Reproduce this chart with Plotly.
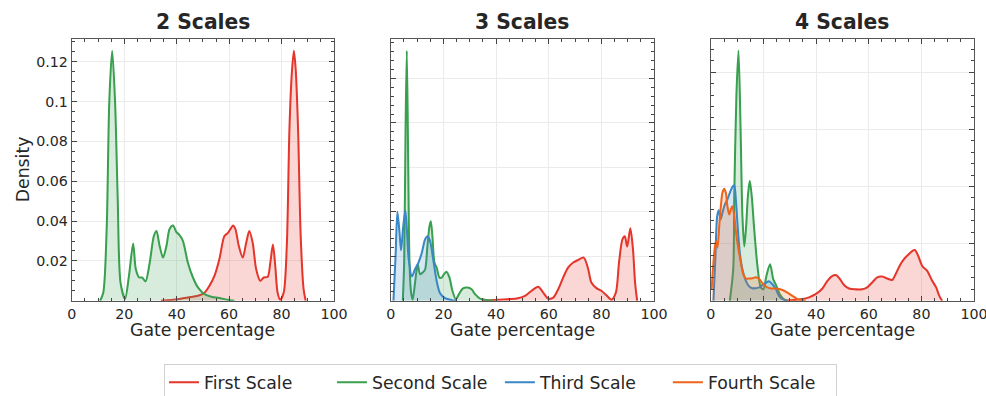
import plotly.graph_objects as go

# ---------------- data ----------------
panel_titles = ["2 Scales", "3 Scales", "4 Scales"]
series_names = ["First Scale", "Second Scale", "Third Scale", "Fourth Scale"]

# Panel 1 (2 scales)
p1_first_x = [34, 40.5, 44.3, 48.1, 50.6, 52.5, 54.4, 56.3, 58.2, 59.5, 60.5, 61.5, 62.4, 63.7, 65.2, 66.5, 67.7, 69,
              70.3, 71.9, 73.2, 74.7, 75.7, 76.7, 77.6, 78.5, 79.5, 80.8, 82, 83, 83.9, 84.7, 85.4, 86.3, 87.3, 88.4, 89.2]
p1_first_y = [0, .0008, .0017, .0025, .004, .0075, .0125, .021, .0325, .034, .036, .0378, .036, .0275, .0217, .029, .035,
              .029, .016, .010, .0117, .012, .019, .0283, .0175, .004, .0005, .004, .0275, .086, .114, .1255, .116, .086,
              .0325, .006, 0]
p1_second_x = [10.8, 12, 13.3, 14.3, 15.4, 16.5, 17.5, 18.6, 20.3, 21.8, 23.4, 24.4, 25.7, 26.8, 28.1, 29.7, 31.3, 32.3,
               33.5, 34.8, 36.1, 37.3, 38.6, 39.9, 41.1, 42.4, 44.3, 46.2, 48.1, 50.6, 53.2, 57, 59.5, 62]
p1_second_y = [0, .004, .036, .1, .1255, .1, .052, .009, .001, .0125, .0287, .016, .0117, .0117, .0097, .019, .0325, .035,
               .0275, .0217, .0275, .036, .0378, .0345, .033, .030, .019, .0117, .0067, .0033, .002, .0012, .0005, 0]

# Panel 2 (3 scales)
p2_first_x = [35, 40.2, 47.8, 51, 53.5, 56, 57.9, 59.8, 61.7, 63.6, 65.5, 67.4, 69.3, 71.2, 73.3, 75, 76.2, 78.1, 80,
              81.9, 83.8, 85.5, 86.7, 88, 88.9, 89.8, 91, 92, 92.8, 93.6]
p2_first_y = [0, .0005, .001, .0022, .0045, .0063, .0037, .001, .0014, .0052, .0105, .015, .0172, .0184, .0194, .0142,
              .0082, .0057, .0045, .0025, .0005, .0037, .0172, .0276, .029, .0244, .0326, .0232, .0082, 0]
p2_second_x = [4.55, 5.06, 5.6, 6.07, 6.6, 7.1, 7.7, 8.3, 9.2, 10.2, 11.1, 12.1, 13, 13.9, 14.7, 15.2, 15.8, 16.6, 17.4,
               18.5, 19.3, 20.2, 21.2, 22.3, 23.4, 24.7, 25.9, 27.3, 29.1, 30.7, 32, 33.9, 36.4, 38.9]
p2_second_y = [0, .017, .077, .1124, .062, .017, .0037, .0005, .008, .0164, .012, .0127, .014, .0246, .0336, .0358, .029,
               .017, .015, .0104, .0104, .012, .013, .0104, .0045, .0007, .003, .0055, .006, .0052, .003, .001, .0004, 0]
p2_third_x = [1.0, 1.8, 2.5, 3.3, 3.9, 4.6, 5.5, 6.1, 6.8, 8.0, 9.2, 10.5, 11.8, 13.0, 14.0, 14.9, 16.2, 17.4, 18.7,
              20.6, 23.1, 25]
p2_third_y = [0, .020, .040, .0306, .0227, .032, .0407, .032, .0187, .011, .0142, .0172, .0217, .0276, .029, .0269, .0179,
              .009, .0034, .0012, .0003, 0]

# Panel 3 (4 scales)
p3_first_x = [28, 34.8, 37.3, 39.8, 42.4, 44.3, 46.2, 47.4, 48.9, 50.6, 52.5, 55, 57.5, 59.4, 61.3, 63.2, 65.1, 67, 68.9,
              70.2, 71.7, 73.3, 75.2, 76.5, 77.5, 78.8, 80.3, 82.2, 84.1, 85.6, 86.8, 87.9]
p3_first_y = [0, .0006, .0012, .0023, .0043, .007, .0087, .009, .0078, .0055, .0043, .004, .004, .0047, .0064, .0082,
              .0085, .0078, .0073, .0093, .0122, .0145, .0163, .0174, .0178, .0157, .0122, .0105, .007, .0047, .0017, 0]
p3_second_x = [7.2, 8.5, 8.9, 9.7, 10.5, 11.3, 12.0, 12.7, 13.4, 14.1, 14.8, 15.6, 16.4, 17.7, 19, 20, 21.1, 22.5, 23.7,
               24.9, 26.2, 27.8, 29]
p3_second_y = [0, .011, .0366, .0715, .0876, .06, .0297, .019, .026, .037, .042, .036, .026, .0122, .0047, .0041, .0087,
               .0128, .0076, .0052, .0023, .0005, 0]
p3_third_x = [1.0, 1.7, 2.4, 3.0, 3.7, 4.4, 5.3, 6.3, 7.2, 8.2, 8.9, 9.5, 10.1, 11, 12, 13.3, 14.6, 15.8, 17.1, 18.4,
              19.6, 21.1, 22.1, 23.4, 24.7, 25.9, 27.2, 29]
p3_third_y = [0, .0145, .0296, .0317, .0285, .0308, .0337, .0355, .0378, .0399, .0404, .0355, .0273, .0169, .011, .007,
              .005, .0044, .0044, .0047, .0055, .0064, .0068, .0058, .0041, .0017, .0006, 0]
p3_fourth_x = [0.3, 1.3, 1.9, 2.5, 3.2, 3.8, 4.4, 5.1, 5.7, 6.3, 7.0, 7.6, 8.2, 8.9, 9.5, 10.5, 11.4, 12.3, 13.3, 14.6,
               15.8, 17.1, 18.4, 19.6, 20.9, 22.8, 24.7, 27.2, 29.1, 31, 32.9, 34.8, 36]
p3_fourth_y = [.004, .0169, .0209, .0186, .0262, .0331, .0378, .0392, .0378, .0331, .0302, .032, .0331, .0296, .0244,
               .018, .0134, .0093, .0078, .0078, .0079, .0082, .0076, .0062, .005, .0043, .0043, .0038, .0029, .0017,
               .0006, .0002, 0]

x_ticks = [0, 20, 40, 60, 80, 100]
p1_yticks = [0.02, 0.04, 0.06, 0.08, 0.1, 0.12]
p1_yticktext = ["0.02", "0.04", "0.06", "0.08", "0.1", "0.12"]
p2_yticks = [0.02, 0.04, 0.06, 0.08, 0.1]
p3_yticks = [0.02, 0.04, 0.06, 0.08]
y_tops = [0.1315, 0.1178, 0.0917]
y_minor = [0.005, 0.004, 0.004]

# ---------------- style ----------------
line_colors = ["#e5362c", "#38a04e", "#3a87c6", "#ef6419"]
fill_colors = ["rgba(229,54,44,0.2)", "rgba(56,160,78,0.2)", "rgba(58,135,198,0.2)", "rgba(239,100,25,0.2)"]
FONT = "DejaVu Sans, Liberation Sans, sans-serif"
TXT = "#262626"

# the captured page is rescaled by 986/1002, so lay out at 1002 px and scale all pixel sizes
K = 1002 / 986
W, H = 1002, 402
x_doms = [(67, 330), (387, 651), (708, 972)]
y_px = (302, 39)


def fx(p):
    return p * K / W


def fy(p):
    return 1 - p * K / H


y_dom = (fy(y_px[0]), fy(y_px[1]))

panels = [
    [(p1_first_x, p1_first_y, 0), (p1_second_x, p1_second_y, 1)],
    [(p2_first_x, p2_first_y, 0), (p2_second_x, p2_second_y, 1), (p2_third_x, p2_third_y, 2)],
    [(p3_first_x, p3_first_y, 0), (p3_second_x, p3_second_y, 1), (p3_third_x, p3_third_y, 2),
     (p3_fourth_x, p3_fourth_y, 3)],
]

fig = go.Figure()
for pi, series in enumerate(panels):
    sfx = "" if pi == 0 else str(pi + 1)
    for xs, ys, si in series:
        fig.add_trace(go.Scatter(
            x=xs, y=ys, mode="lines", name=series_names[si],
            line=dict(color=line_colors[si], width=2 * K, shape="spline", smoothing=0.8),
            fill="tozeroy", fillcolor=fill_colors[si],
            xaxis="x" + sfx, yaxis="y" + sfx,
            showlegend=False, legendgroup=series_names[si],
        ))

# legend entries: line-only keys (no data drawn)
for si, nm in enumerate(series_names):
    fig.add_trace(go.Scatter(
        x=[None], y=[None], mode="lines", name=nm,
        line=dict(color=line_colors[si], width=2 * K),
        xaxis="x3", yaxis="y3", showlegend=True, legendgroup=nm,
    ))

axis_common = dict(
    showline=True, linecolor="#555555", linewidth=1.2 * K, mirror="allticks",
    ticks="inside", ticklen=5 * K, tickwidth=1, tickcolor="#444444",
    showgrid=True, gridcolor="#ebebeb", gridwidth=1, zeroline=False,
    tickfont=dict(family=FONT, size=14 * K, color=TXT),
)

layout = dict(
    width=W, height=H, margin=dict(l=0, r=0, t=0, b=0),
    paper_bgcolor="white", plot_bgcolor="white",
    font=dict(family=FONT, color=TXT),
    legend=dict(orientation="h", x=fx(497), xanchor="center", y=fy(365), yanchor="top",
                bordercolor="#d0d0d0", borderwidth=1, bgcolor="white",
                font=dict(family=FONT, size=17 * K, color=TXT), entrywidth=121 * K, tracegroupgap=0),
    annotations=[],
)

yticks_all = [p1_yticks, p2_yticks, p3_yticks]
for pi in range(3):
    sfx = "" if pi == 0 else str(pi + 1)
    x0, x1 = x_doms[pi]
    layout["xaxis" + sfx] = dict(
        axis_common, domain=[fx(x0), fx(x1)], range=[0, 100], anchor="y" + sfx,
        tickvals=x_ticks, ticktext=[str(v) for v in x_ticks],
        minor=dict(dtick=5, tick0=0, ticks="inside", ticklen=3 * K, tickcolor="#444444", showgrid=False),
    )
    ya = dict(
        axis_common, domain=list(y_dom), range=[0, y_tops[pi]], anchor="x" + sfx,
        tickvals=yticks_all[pi],
        minor=dict(dtick=y_minor[pi], tick0=0, ticks="inside", ticklen=3 * K, tickcolor="#444444", showgrid=False),
    )
    if pi == 0:
        ya["ticktext"] = p1_yticktext
    else:
        ya["showticklabels"] = False
    layout["yaxis" + sfx] = ya
    cx = fx((x0 + x1) / 2)
    layout["annotations"].append(dict(
        text="<b>" + panel_titles[pi] + "</b>", x=cx, y=fy(22), xref="paper", yref="paper",
        xanchor="center", yanchor="middle", showarrow=False,
        font=dict(family=FONT, size=20 * K, color=TXT)))
    layout["annotations"].append(dict(
        text="Gate percentage", x=cx, y=fy(331), xref="paper", yref="paper",
        xanchor="center", yanchor="middle", showarrow=False,
        font=dict(family=FONT, size=17 * K, color=TXT)))

layout["annotations"].append(dict(
    text="Density", x=fx(18), y=fy(170), xref="paper", yref="paper", textangle=-90,
    xanchor="center", yanchor="middle", showarrow=False,
    font=dict(family=FONT, size=17 * K, color=TXT)))

fig.update_layout(**layout)
fig.write_html(
    "out.html",
    post_script="document.body.style.margin='0';document.body.style.overflow='hidden';"
                "document.documentElement.style.overflow='hidden';",
)
